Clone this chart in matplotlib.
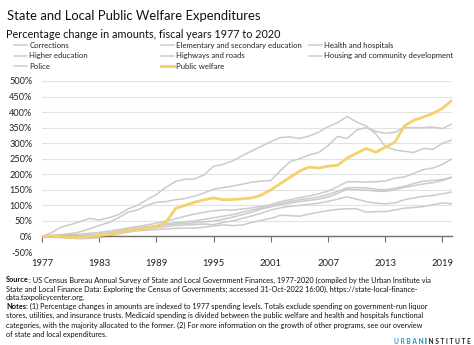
import numpy as np
import matplotlib
matplotlib.use("Agg")
import matplotlib.pyplot as plt

plt.rcParams['font.family'] = ['Lato', 'DejaVu Sans']

years = list(range(1977, 2021))

corrections = [0, 12, 30, 38, 48, 58, 53, 60, 70, 88, 100, 118, 135, 158, 177, 184, 185, 198, 226, 232,
               243, 260, 275, 290, 305, 318, 320, 315, 323, 335, 353, 366, 386, 368, 355, 330, 290, 278,
               274, 270, 283, 280, 300, 310]
health = [0, 3, 6, 9, 15, 25, 35, 45, 60, 78, 85, 100, 110, 112, 118, 122, 130, 140, 152, 157,
          162, 168, 175, 178, 180, 212, 240, 250, 262, 270, 292, 322, 315, 342, 350, 338, 332, 335,
          350, 350, 350, 352, 347, 362]
police = [0, 2, 4, 6, 8, 10, 13, 17, 22, 27, 32, 37, 43, 50, 57, 65, 72, 78, 83, 85,
          85, 88, 92, 97, 102, 112, 118, 125, 130, 137, 146, 160, 176, 176, 175, 176, 178, 188,
          191, 203, 215, 220, 232, 250]
elementary = [0, 1, 2, 3, 3, 4, 6, 10, 15, 20, 25, 30, 35, 40, 44, 47, 50, 55, 60, 65,
              70, 78, 85, 92, 98, 106, 112, 118, 122, 127, 135, 145, 156, 157, 156, 152, 150, 155,
              161, 170, 178, 180, 183, 191]
higher_ed = [0, 2, 3, 2, 3, 5, 8, 12, 17, 22, 27, 31, 35, 38, 40, 42, 44, 47, 50, 55,
             62, 70, 78, 88, 95, 102, 107, 112, 116, 120, 127, 138, 152, 150, 149, 146, 145, 150,
             158, 163, 169, 173, 180, 190]
housing = [0, -2, -4, -6, -7, -6, -4, 2, 8, 14, 20, 25, 28, 32, 35, 37, 38, 40, 38, 45,
           50, 58, 66, 75, 85, 92, 97, 100, 103, 107, 113, 120, 127, 120, 112, 107, 105, 108,
           118, 124, 129, 132, 137, 143]
highways = [0, 3, 5, 4, 1, -1, 0, 5, 10, 15, 18, 20, 22, 24, 26, 27, 27, 30, 34, 37,
            35, 37, 45, 52, 58, 68, 67, 65, 72, 78, 83, 87, 89, 89, 78, 80, 80, 85,
            91, 93, 96, 102, 108, 105]
public_welfare = [0, 2, -1, -3, -2, 0, 3, 7, 12, 17, 22, 27, 32, 45, 90, 100, 110, 118, 124, 118,
                  119, 121, 124, 133, 150, 170, 190, 210, 223, 220, 226, 229, 252, 268, 283, 271, 287, 303,
                  355, 374, 384, 396, 412, 438]

gray_series = [
    ("Corrections", corrections),
    ("Elementary and secondary education", elementary),
    ("Health and hospitals", health),
    ("Higher education", higher_ed),
    ("Highways and roads", highways),
    ("Housing and community development", housing),
    ("Police", police),
]

xticks = [1977, 1983, 1989, 1995, 2001, 2007, 2013, 2019]
yticks = [-50, 0, 50, 100, 150, 200, 250, 300, 350, 400, 450, 500]

W, H = 474, 345
fig = plt.figure(figsize=(W / 100, H / 100), dpi=100)
fig.patch.set_facecolor('white')

ax = fig.add_axes([42 / W, (H - 252) / H, 410 / W, 171 / H])
ax.set_xlim(1977, 2020)
ax.set_ylim(-50, 500)

handles = {}
for name, vals in gray_series:
    ln, = ax.plot(years, vals, color='#cbcbcb', lw=1.1, label=name, zorder=2, solid_joinstyle='round')
    handles[name] = ln
ln, = ax.plot(years, public_welfare, color='#f6d06a', lw=2.0, label="Public welfare", zorder=3,
              solid_joinstyle='round')
handles["Public welfare"] = ln

# grid
ax.set_yticks(yticks)
ax.set_yticklabels([f"{v}%" for v in yticks], fontsize=6.6, color='#222222')
ax.yaxis.grid(True, color='#e2e2e2', lw=0.8, zorder=0)
ax.tick_params(axis='y', length=0, pad=7)
for s in ['top', 'right', 'left']:
    ax.spines[s].set_visible(False)

# baseline at 0 with ticks
ax.spines['bottom'].set_position(('data', 0))
ax.spines['bottom'].set_color('#6f6f6f')
ax.spines['bottom'].set_linewidth(1.0)
ax.set_xticks(xticks)
ax.tick_params(axis='x', length=4, color='#6f6f6f', width=0.8, labelbottom=False)

sec = ax.secondary_xaxis(location=0)
sec.set_xticks(xticks)
sec.set_xticklabels([str(y) for y in xticks], fontsize=6.8, color='#222222')
sec.tick_params(length=0, pad=5)
sec.spines['bottom'].set_visible(False)

# titles
fig.text(7 / W, 1 - 16 / H, "State and Local Public Welfare Expenditures", fontsize=9.4,
         color='#111111', va='center', ha='left')
fig.text(6 / W, 1 - 34 / H, "Percentage change in amounts, fiscal years 1977 to 2020", fontsize=7.8,
         color='#111111', va='center', ha='left')

# legend, three columns
cols = [
    (14, ["Corrections", "Higher education", "Police"]),
    (161, ["Elementary and secondary education", "Highways and roads", "Public welfare"]),
    (309, ["Health and hospitals", "Housing and community development"]),
]
for x0, names in cols:
    leg = fig.legend([handles[n] for n in names], names, loc='upper left',
                     bbox_to_anchor=(x0 / W, 1 - 42 / H), frameon=False, fontsize=5.6,
                     handlelength=1.7, handletextpad=0.25, labelspacing=0.42,
                     borderaxespad=0, borderpad=0)
    for t in leg.get_texts():
        t.set_color('#222222')

# footer
foot_lines = [
    ("Source", ": US Census Bureau Annual Survey of State and Local Government Finances, 1977-2020 (compiled by the Urban Institute via"),
    (None, "State and Local Finance Data: Exploring the Census of Governments; accessed 31-Oct-2022 16:00), https://state-local-finance-"),
    (None, "data.taxpolicycenter.org."),
    ("Notes", ": (1) Percentage changes in amounts are indexed to 1977 spending levels. Totals exclude spending on government-run liquor"),
    (None, "stores, utilities, and insurance trusts. Medicaid spending is divided between the public welfare and health and hospitals functional"),
    (None, "categories, with the majority allocated to the former. (2) For more information on the growth of other programs, see our overview"),
    (None, "of state and local expenditures."),
]
fy = [280, 289.3, 297.8, 306.8, 315.8, 325, 334]
fs = 5.35
fig.canvas.draw()
renderer = fig.canvas.get_renderer()
for (bold, rest), y in zip(foot_lines, fy):
    x = 6 / W
    if bold:
        tb = fig.text(x, 1 - y / H, bold, fontsize=fs, fontweight='bold', va='center', ha='left',
                      color='#111111')
        bb = tb.get_window_extent(renderer)
        x = bb.x1 / W
    fig.text(x, 1 - y / H, rest, fontsize=fs, va='center', ha='left', color='#111111')

# logo
t1 = fig.text(0, 1 - 342 / H, "U R B A N ", fontsize=4.8, fontweight='bold', color='#1696d2',
              va='center', ha='left')
t2 = fig.text(0, 1 - 342 / H, "I N S T I T U T E", fontsize=4.8, fontweight='bold', color='#222222',
              va='center', ha='right')
t2.set_x(471 / W)
w2 = t2.get_window_extent(renderer).width
w1 = t1.get_window_extent(renderer).width
t1.set_x((471 - w2 - w1) / W)

fig.savefig("out.png", dpi=100, facecolor='white')
